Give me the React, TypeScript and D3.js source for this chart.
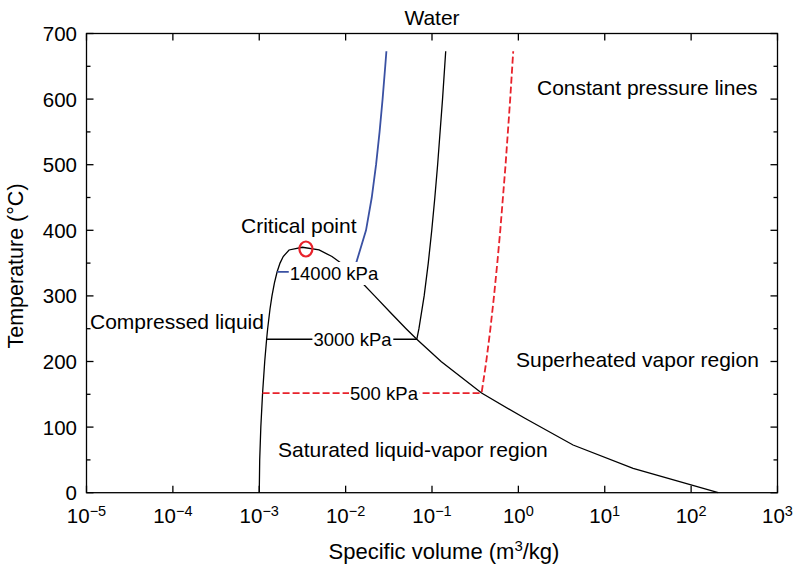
import React, { useEffect, useRef } from "react";
import * as d3 from "d3";

// Saturated liquid line (T °C, v m3/kg)
const T_LIQ = [0.01, 50, 100, 151.86, 200, 233.9, 250, 280, 300, 320, 336.75, 350, 360, 370, 374.14];
const V_LIQ = [0.001, 0.001012, 0.001043, 0.001093, 0.001157, 0.001217, 0.001251, 0.001332, 0.001404, 0.001499, 0.001611, 0.00174, 0.001895, 0.002213, 0.003155];
// Saturated vapor line
const T_VAP = [374.14, 370, 360, 350, 340, 320, 300, 275, 250, 233.9, 200, 151.86, 113.4, 72.7, 37.2, 0.01];
const V_VAP = [0.003155, 0.004931, 0.00695, 0.008813, 0.0108, 0.01549, 0.02167, 0.03279, 0.05013, 0.06668, 0.1274, 0.3749, 1.19, 4.3, 21.3, 206.1];

// Constant pressure lines
const P500_T = [151.86, 151.86, 200, 250, 300, 350, 400, 500, 600, 673];
const P500_V = [0.001093, 0.3749, 0.4249, 0.4744, 0.5226, 0.5701, 0.6173, 0.7109, 0.8041, 0.8718];
const P3000_T = [233.9, 233.9, 250, 300, 350, 400, 450, 500, 600, 673];
const P3000_V = [0.001217, 0.06668, 0.07058, 0.08114, 0.09053, 0.09936, 0.10787, 0.11619, 0.13243, 0.1441];
const P14000_T = [336.75, 336.75, 350, 400, 450, 500, 550, 600, 650, 673];
const P14000_V = [0.001611, 0.01149, 0.01323, 0.01722, 0.02007, 0.02251, 0.02472, 0.02679, 0.02875, 0.02966];

const CRIT_V = 0.00347;
const CRIT_T = 371.5;

const X_EXPONENTS = [-5, -4, -3, -2, -1, 0, 1, 2, 3];
const Y_TICKS = [0, 100, 200, 300, 400, 500, 600, 700];
const Y_MINOR = [50, 150, 250, 350, 450, 550, 650];

const FONT = "'Liberation Sans', Arial, Helvetica, sans-serif";
const RED = "#e8222b";
const BLUE = "#3a51a3";

export default function App() {
  const ref = useRef<SVGSVGElement | null>(null);

  useEffect(() => {
    const svg = d3.select(ref.current);
    svg.selectAll("*").remove();

    const L = 86.5, R = 777.5, T = 33.5, B = 492.7;
    const x = d3.scaleLog().domain([1e-5, 1e3]).range([L, R]);
    const y = d3.scaleLinear().domain([0, 700]).range([B, T]);

    const line = d3
      .line<[number, number]>()
      .x((d) => x(d[0]))
      .y((d) => y(d[1]));

    const zip = (vs: number[], ts: number[]) => vs.map((v, i) => [v, ts[i]] as [number, number]);

    const g = svg.append("g");

    // dome
    const dome = zip(V_LIQ, T_LIQ).concat(zip(V_VAP, T_VAP));
    g.append("path").attr("d", line(dome)!).attr("fill", "none").attr("stroke", "#000").attr("stroke-width", 1.3);

    // pressure lines
    g.append("path").attr("d", line(zip(P14000_V, P14000_T))!).attr("fill", "none").attr("stroke", BLUE).attr("stroke-width", 1.8);
    g.append("path").attr("d", line(zip(P3000_V, P3000_T))!).attr("fill", "none").attr("stroke", "#000").attr("stroke-width", 1.3);
    g.append("path")
      .attr("d", line(zip(P500_V, P500_T))!)
      .attr("fill", "none")
      .attr("stroke", RED)
      .attr("stroke-width", 1.8)
      .attr("stroke-dasharray", "7,3");

    // critical point marker
    g.append("ellipse")
      .attr("cx", x(CRIT_V))
      .attr("cy", y(CRIT_T))
      .attr("rx", 6.5)
      .attr("ry", 7.5)
      .attr("fill", "none")
      .attr("stroke", RED)
      .attr("stroke-width", 2.2);

    // axes box
    const ax = svg.append("g").attr("stroke", "#000").attr("stroke-width", 1.3);
    ax.append("rect").attr("x", L).attr("y", T).attr("width", R - L).attr("height", B - T).attr("fill", "none");
    X_EXPONENTS.forEach((e) => {
      const xx = x(Math.pow(10, e));
      ax.append("line").attr("x1", xx).attr("x2", xx).attr("y1", B).attr("y2", B - 7);
      ax.append("line").attr("x1", xx).attr("x2", xx).attr("y1", T).attr("y2", T + 7);
    });
    Y_TICKS.forEach((t) => {
      const yy = y(t);
      ax.append("line").attr("x1", L).attr("x2", L + 7).attr("y1", yy).attr("y2", yy);
      ax.append("line").attr("x1", R).attr("x2", R - 7).attr("y1", yy).attr("y2", yy);
    });
    Y_MINOR.forEach((t) => {
      const yy = y(t);
      ax.append("line").attr("x1", L).attr("x2", L + 4).attr("y1", yy).attr("y2", yy);
      ax.append("line").attr("x1", R).attr("x2", R - 4).attr("y1", yy).attr("y2", yy);
    });

    const txt = svg.append("g").attr("font-family", FONT).attr("fill", "#000");

    // y tick labels
    Y_TICKS.forEach((t) => {
      txt.append("text").attr("x", 77).attr("y", y(t) + 7.5).attr("text-anchor", "end").attr("font-size", 20.5).text(String(t));
    });
    // x tick labels
    X_EXPONENTS.forEach((e) => {
      const t = txt.append("text").attr("x", x(Math.pow(10, e))).attr("y", 523).attr("text-anchor", "middle").attr("font-size", 20.5);
      t.append("tspan").text("10");
      t.append("tspan").attr("dy", -7).attr("font-size", 14.5).text(e < 0 ? "\u2212" + Math.abs(e) : String(e));
    });

    // title and axis labels
    txt.append("text").attr("x", 432).attr("y", 25).attr("text-anchor", "middle").attr("font-size", 21).text("Water");
    const xl = txt.append("text").attr("x", 444).attr("y", 559).attr("text-anchor", "middle").attr("font-size", 22);
    xl.append("tspan").text("Specific volume (m");
    xl.append("tspan").attr("dy", -8).attr("font-size", 15).text("3");
    xl.append("tspan").attr("dy", 8).text("/kg)");
    txt.append("text")
      .attr("transform", "translate(23,266) rotate(-90)")
      .attr("text-anchor", "middle")
      .attr("font-size", 21.5)
      .text("Temperature (\u00B0C)");

    // annotations
    const annots: [string, number, number][] = [
      ["Constant pressure lines", 537, 95],
      ["Critical point", 241, 233],
      ["Compressed liquid", 90, 328.5],
      ["Superheated vapor region", 516, 366.5],
      ["Saturated liquid-vapor region", 278, 456.7],
    ];
    annots.forEach(([s, xx, yy]) => {
      txt.append("text").attr("x", xx).attr("y", yy).attr("font-size", 21).text(s);
    });

    // pressure labels with white background
    const plabels: [string, number, number][] = [
      ["14000 kPa", 334, 280],
      ["3000 kPa", 352.5, 346],
      ["500 kPa", 384, 399.5],
    ];
    plabels.forEach(([s, cx, by]) => {
      const grp = txt.append("g");
      const rect = grp.append("rect").attr("fill", "#fff");
      const t = grp.append("text").attr("x", cx).attr("y", by).attr("text-anchor", "middle").attr("font-size", 18.5).text(s);
      const bb = (t.node() as SVGTextElement).getBBox();
      rect.attr("x", bb.x - 1).attr("y", bb.y - 1).attr("width", bb.width + 2).attr("height", bb.height + 2);
    });
  }, []);

  return (
    <svg
      ref={ref}
      width={795}
      height={567}
      style={{ position: "absolute", left: 0, top: 0, background: "#fff" }}
    />
  );
}
